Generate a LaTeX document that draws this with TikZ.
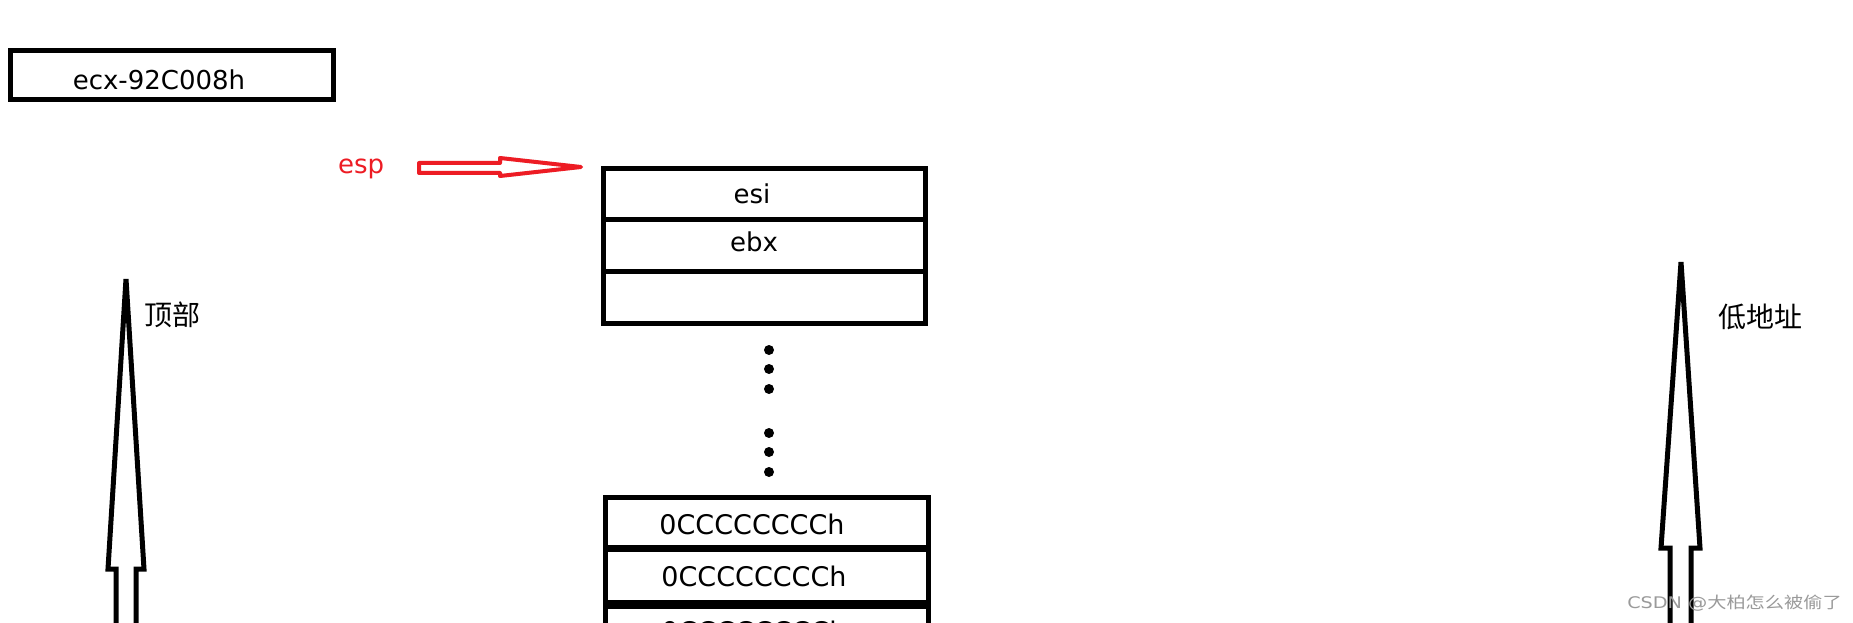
\documentclass[tikz,border=0pt]{standalone}
\usepackage{fontspec}
\setmainfont{DejaVu Sans}
\newfontfamily\cjk{Noto Sans CJK SC}
\definecolor{paintred}{HTML}{ED1C24}
\definecolor{wmgray}{HTML}{9A9A9A}
\tikzset{
  cell/.style={draw, line width=5pt, inner sep=0pt, outer sep=0pt},
  txt/.style={font=\fontsize{26}{31}\selectfont, inner sep=0pt, anchor=base},
  cjktxt/.style={font=\cjk\fontsize{28}{33}\selectfont, inner sep=0pt, anchor=base west},
  blockarrow/.style={draw, line width=5pt, line join=miter},
  dot/.style={circle, fill=black, inner sep=0pt, minimum size=10pt}
}
\begin{document}
\begin{tikzpicture}[x=1pt,y=-1pt]
\useasboundingbox (0,0) rectangle (1853,623);
\clip (0,0) rectangle (1853,623);
\fill[white] (0,0) rectangle (1853,623);

% ecx box
\node[cell, minimum width=323pt, minimum height=49pt] (ecx) at (171.5,75.5) {};
\node[txt] (ecxt) at (159,90) {ecx-92C008h};

% esp label and red arrow
\node[txt, text=paintred, anchor=base west] (esp) at (338,173) {esp};
\draw[paintred, line width=4pt, line join=round]
  (419,163) -- (500,163) -- (500,158) -- (581,167) -- (500,176) -- (500,173) -- (419,173) -- cycle;

% top stack cells
\node[cell, minimum width=322pt, minimum height=50pt] (s1) at (764,194) {};
\node[cell, minimum width=322pt, minimum height=52pt] (s2) at (764,245) {};
\node[cell, minimum width=322pt, minimum height=52pt] (s3) at (764,297) {};
\node[txt] (s1t) at (752,203) {esi};
\node[txt] (s2t) at (754,251) {ebx};

% dots
\foreach \yy [count=\i] in {350,369,389,433,452,472}
  \node[dot] (d\i) at (769,\yy) {};

% lower stack cells
\node[cell, minimum width=323pt, minimum height=51pt] (c1) at (766.5,522.5) {};
\node[cell, minimum width=323pt, minimum height=56pt] (c2) at (766.5,576) {};
\node[cell, minimum width=323pt, minimum height=100pt] (c3) at (766.5,654) {};
\draw[line width=7pt] (c1.south west) -- (c1.south east);
\draw[line width=9pt] (c2.south west) -- (c2.south east);
\node[txt, font=\fontsize{27}{32}\selectfont] (c1t) at (752,534) {0CCCCCCCCh};
\node[txt, font=\fontsize{27}{32}\selectfont] (c2t) at (754,586) {0CCCCCCCCh};
\node[txt, font=\fontsize{27}{32}\selectfont] (c3t) at (754,641) {0CCCCCCCCh};

% left hollow arrow
\draw[blockarrow]
  (116,640) -- (116,569) -- (108,569) -- (126,279) -- (144,569) -- (136,569) -- (136,640);
\node[cjktxt] (top) at (144,325) {顶部};

% right hollow arrow
\draw[blockarrow]
  (1670,640) -- (1670,548) -- (1661,548) -- (1681,262) -- (1700,548) -- (1691,548) -- (1691,640);
\node[cjktxt] (low) at (1718,327) {低地址};

% watermark
\node[inner sep=0pt, anchor=base west, text=wmgray, xscale=1.2, font=\fontsize{16}{18}\selectfont] (wm) at (1627,608) {CSDN @{\cjk 大柏怎么被偷了}};
\end{tikzpicture}
\end{document}
